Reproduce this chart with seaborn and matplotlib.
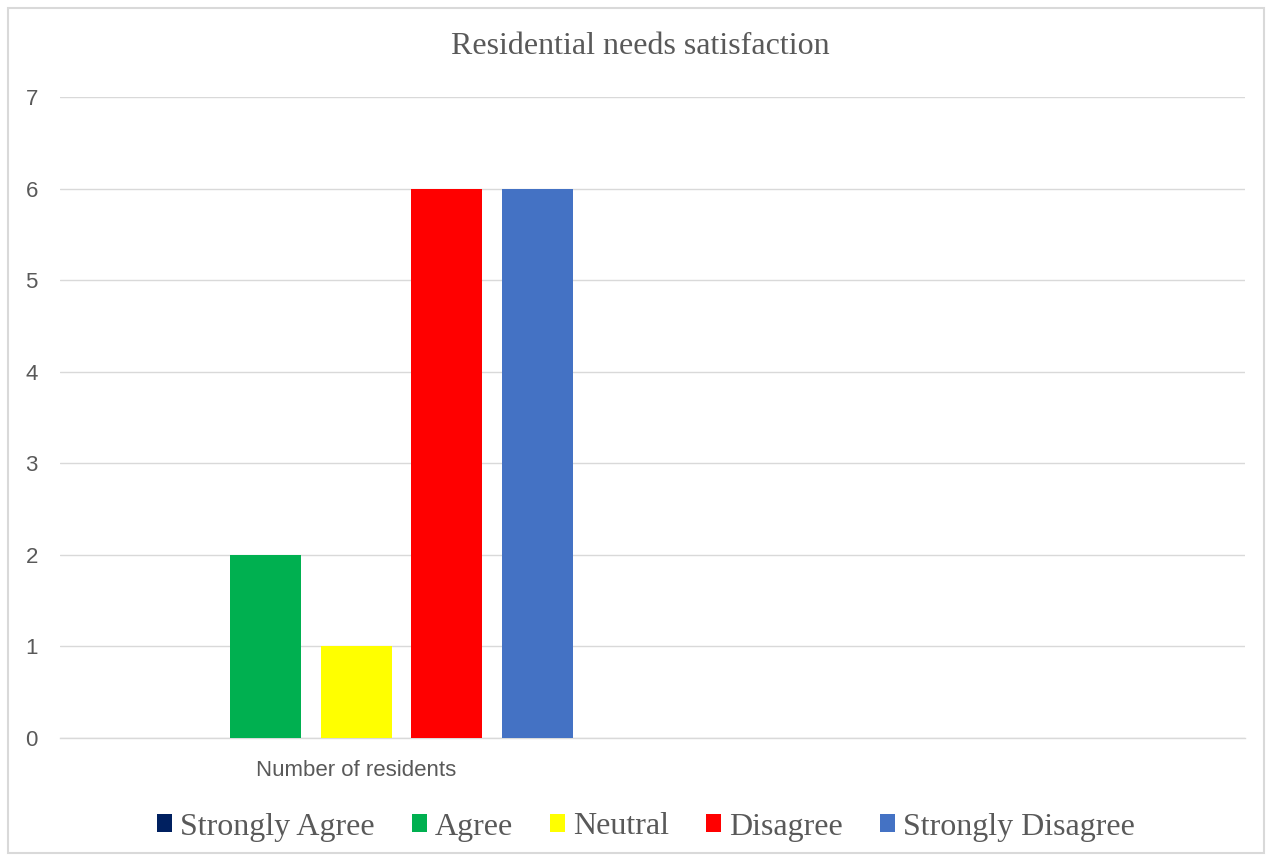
import matplotlib
matplotlib.use("Agg")
import matplotlib.pyplot as plt
import matplotlib.patches as mpatches
import seaborn as sns
import pandas as pd
import numpy as np

# ---- data ----
categories = ["Number of residents", " "]
series = ["Strongly Agree", "Agree", "Neutral", "Disagree", "Strongly Disagree"]
values_residents = [0, 2, 1, 6, 6]
values_empty = [np.nan, np.nan, np.nan, np.nan, np.nan]
colors = ["#002060", "#00B050", "#FFFF00", "#FF0000", "#4472C4"]
title = "Residential needs satisfaction"
yticks = [0, 1, 2, 3, 4, 5, 6, 7]

rows = []
for s, v in zip(series, values_residents):
    rows.append({"category": categories[0], "series": s, "value": v})
for s, v in zip(series, values_empty):
    rows.append({"category": categories[1], "series": s, "value": v})
df = pd.DataFrame(rows)

sns.set_theme(style="white")
plt.rcParams["font.family"] = ["Liberation Sans", "DejaVu Sans"]

W, H = 1274, 861
fig = plt.figure(figsize=(W / 100, H / 100), dpi=100)
ax = fig.add_axes([60 / W, 1 - 738 / H, 1185 / W, (738 - 97) / H])

sns.barplot(data=df, x="category", y="value", hue="series", order=categories,
            hue_order=series, palette=colors, saturation=1, width=0.764, gap=0.215,
            linewidth=0, errorbar=None, ax=ax, legend=False, zorder=3)

ax.set_xlim(-0.5, 1.5)
ax.set_ylim(0, 7)
ax.set_yticks(yticks)
ax.yaxis.grid(True, color="#D9D9D9", linewidth=1.0, zorder=0)
ax.set_axisbelow(True)
for sp in ["top", "right", "left"]:
    ax.spines[sp].set_visible(False)
ax.spines["bottom"].set_color("#D9D9D9")
ax.spines["bottom"].set_linewidth(1.0)
ax.tick_params(axis="both", length=0, colors="#595959", labelsize=16)
ax.tick_params(axis="y", pad=16)
ax.tick_params(axis="x", pad=16)
ax.set_xlabel("")
ax.set_ylabel("")

fig.text(640 / W, 1 - 47 / H, title, ha="center", va="center",
         family=["Liberation Serif", "DejaVu Serif"], fontsize=23, color="#595959")

handles = [mpatches.Patch(facecolor=c, edgecolor="none", label=s) for s, c in zip(series, colors)]
fig.legend(handles=handles, loc="center", bbox_to_anchor=(646 / W, 1 - 827 / H),
           ncol=5, frameon=False, handlelength=0.47, handleheight=0.47,
           handletextpad=0.25, columnspacing=1.16,
           prop={"family": ["Liberation Serif", "DejaVu Serif"], "size": 23},
           labelcolor="#595959")

fig.patches.append(mpatches.Rectangle((8 / W, 8 / H), (1264 - 8) / W, (853 - 8) / H,
                                      transform=fig.transFigure, fill=False,
                                      edgecolor="#D9D9D9", linewidth=1.5))

fig.savefig("out.png", dpi=100, facecolor="white")
